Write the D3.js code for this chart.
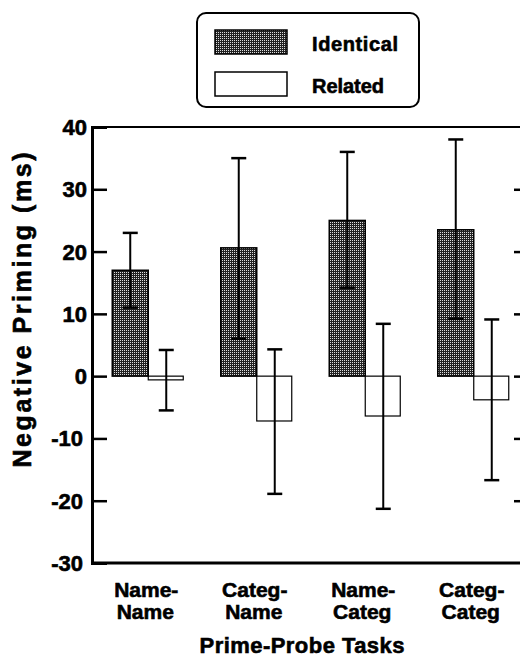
<!DOCTYPE html>
<html>
<head>
<meta charset="utf-8">
<script src="https://cdn.jsdelivr.net/npm/d3@7"></script>
<style>
  body { margin: 0; background: #fff; }
  svg text { font-family: "Liberation Sans", Arial, sans-serif; font-weight: bold; fill: #000; stroke: #000; stroke-width: 0.6px; }
</style>
</head>
<body>
<svg id="chart"></svg>
<script>
// data
const tasks = [['Name-', 'Name'], ['Categ-', 'Name'], ['Name-', 'Categ'], ['Categ-', 'Categ']]
const series = ['Identical', 'Related']
const identical = [17, 20.6, 25, 23.5]
const identicalHi = [23, 35, 36, 38]
const identicalLo = [11, 6, 14.2, 9.2]
const related = [-0.6, -7.2, -6.4, -3.8]
const relatedHi = [4.2, 4.3, 8.4, 9.1]
const relatedLo = [-5.5, -18.9, -21.3, -16.7]
const yTicks = [-30, -20, -10, 0, 10, 20, 30, 40]

const width = 520
const height = 661

const svg = d3.select('svg#chart')
  .attr('width', width)
  .attr('height', height)

// stipple fill like the printed figure
const defs = svg.append('defs')
const pat = defs.append('pattern')
  .attr('id', 'stipple')
  .attr('width', 2)
  .attr('height', 2)
  .attr('patternUnits', 'userSpaceOnUse')
pat.append('rect').attr('width', 2).attr('height', 2).attr('fill', '#222')
pat.append('rect').attr('x', 0).attr('y', 0).attr('width', 1).attr('height', 1).attr('fill', '#ddd')

const pLeft = 92, pRight = 529, pTop = 127, pBottom = 563

const y = d3.scaleLinear().domain([-30, 40]).range([pBottom, pTop])
const x = d3.scaleBand().domain(d3.range(tasks.length)).range([pLeft + 2, pRight - 1])
const barW = 36

// frame
svg.append('line').attr('x1', pLeft).attr('x2', pRight).attr('y1', pTop).attr('y2', pTop)
  .attr('stroke', '#000').attr('stroke-width', 2)
svg.append('line').attr('x1', pLeft).attr('x2', pRight).attr('y1', pBottom).attr('y2', pBottom)
  .attr('stroke', '#000').attr('stroke-width', 3)
svg.append('line').attr('x1', pRight).attr('x2', pRight).attr('y1', pTop).attr('y2', pBottom)
  .attr('stroke', '#000').attr('stroke-width', 2)

// left axis, ticks pointing inward
const yAxis = svg.append('g')
  .attr('transform', `translate(${pLeft},0)`)
  .call(d3.axisRight(y).tickValues(yTicks).tickSize(15).tickFormat(''))
yAxis.select('.domain').attr('stroke-width', 3)
yAxis.selectAll('.tick line').attr('stroke-width', 2.5)

// right axis ticks
const yAxisR = svg.append('g')
  .attr('transform', `translate(${pRight},0)`)
  .call(d3.axisLeft(y).tickValues(yTicks.filter(d => d > -30 && d < 40)).tickSize(15).tickFormat(''))
yAxisR.select('.domain').remove()
yAxisR.selectAll('.tick line').attr('stroke-width', 2.5)

svg.append('g').selectAll('text')
  .data(yTicks)
  .join('text')
  .attr('x', d => d < 0 ? 83 : 87)
  .attr('y', d => y(d) + 8)
  .attr('text-anchor', 'end')
  .style('font-size', '22px')
  .text(d => d)

// bars
const bars = svg.append('g')
bars.selectAll('.ident')
  .data(identical)
  .join('rect')
  .attr('class', 'ident')
  .attr('x', (d, i) => x(i) + x.bandwidth() / 2 - barW)
  .attr('y', d => y(Math.max(0, d)))
  .attr('width', barW)
  .attr('height', d => Math.abs(y(d) - y(0)))
  .attr('fill', 'url(#stipple)')
  .attr('stroke', '#000')
  .attr('stroke-width', 1.5)

bars.selectAll('.rel')
  .data(related)
  .join('rect')
  .attr('class', 'rel')
  .attr('x', (d, i) => x(i) + x.bandwidth() / 2)
  .attr('y', d => y(Math.max(0, d)))
  .attr('width', barW - 1)
  .attr('height', d => Math.abs(y(d) - y(0)))
  .attr('fill', '#fff')
  .attr('stroke', '#000')
  .attr('stroke-width', 1.2)

// error bars
const errs = []
identical.forEach((d, i) => errs.push({ cx: x(i) + x.bandwidth() / 2 - barW / 2, hi: identicalHi[i], lo: identicalLo[i] }))
related.forEach((d, i) => errs.push({ cx: x(i) + x.bandwidth() / 2 + barW / 2, hi: relatedHi[i], lo: relatedLo[i] }))

const eg = svg.append('g').attr('stroke', '#000')
eg.selectAll('.stem').data(errs).join('line')
  .attr('x1', d => d.cx).attr('x2', d => d.cx)
  .attr('y1', d => y(d.hi)).attr('y2', d => y(d.lo))
  .attr('stroke-width', 2)
eg.selectAll('.capHi').data(errs).join('line')
  .attr('x1', d => d.cx - 7.5).attr('x2', d => d.cx + 7.5)
  .attr('y1', d => y(d.hi)).attr('y2', d => y(d.hi))
  .attr('stroke-width', 2.5)
eg.selectAll('.capLo').data(errs).join('line')
  .attr('x1', d => d.cx - 7.5).attr('x2', d => d.cx + 7.5)
  .attr('y1', d => y(d.lo)).attr('y2', d => y(d.lo))
  .attr('stroke-width', 2.5)

// category labels
const cat = svg.append('g').selectAll('text')
  .data(tasks)
  .join('text')
  .attr('text-anchor', 'middle')
  .style('font-size', '21px')
cat.append('tspan')
  .attr('x', (d, i) => x(i) + x.bandwidth() / 2 - 2)
  .attr('y', 597)
  .text(d => d[0])
cat.append('tspan')
  .attr('x', (d, i) => x(i) + x.bandwidth() / 2 - 3)
  .attr('y', 619)
  .text(d => d[1])

// axis titles
svg.append('text')
  .attr('x', 302)
  .attr('y', 653)
  .attr('text-anchor', 'middle')
  .attr('textLength', 205)
  .style('font-size', '22px')
  .text('Prime-Probe Tasks')

svg.append('text')
  .attr('transform', 'translate(31,310) rotate(-90)')
  .attr('text-anchor', 'middle')
  .attr('textLength', 315)
  .style('font-size', '25px')
  .text('Negative Priming (ms)')

// legend
const lg = svg.append('g')
lg.append('rect')
  .attr('x', 197).attr('y', 13)
  .attr('width', 222).attr('height', 94)
  .attr('rx', 9)
  .attr('fill', 'none')
  .attr('stroke', '#000')
  .attr('stroke-width', 2)

const legendRows = lg.selectAll('.row')
  .data(series)
  .join('g')
  .attr('transform', (d, i) => `translate(0,${i * 42})`)
legendRows.append('rect')
  .attr('x', 215).attr('y', 30)
  .attr('width', 72).attr('height', 24)
  .attr('fill', (d, i) => i === 0 ? 'url(#stipple)' : '#fff')
  .attr('stroke', '#000')
  .attr('stroke-width', 1.5)
legendRows.append('text')
  .attr('x', 312).attr('y', 51)
  .attr('textLength', (d, i) => i === 0 ? 86 : 72)
  .style('font-size', '20px')
  .text(d => d)
</script>
</body>
</html>
